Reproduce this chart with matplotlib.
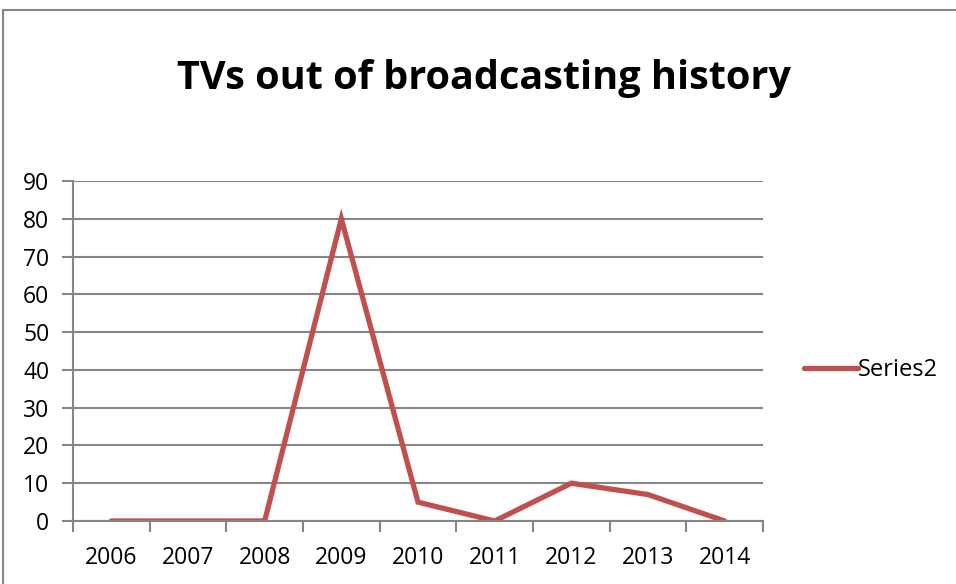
import matplotlib.pyplot as plt
from matplotlib.lines import Line2D

years = ["2006", "2007", "2008", "2009", "2010", "2011", "2012", "2013", "2014"]
values = [0, 0, 0, 80, 5, 0, 10, 7, 0]
y_ticks = [0, 10, 20, 30, 40, 50, 60, 70, 80, 90]

plt.rcParams['font.family'] = ['Open Sans', 'DejaVu Sans']
grey = '#868686'

fig = plt.figure(figsize=(9.56, 5.84), dpi=100)
# outer chart border
fig.add_artist(plt.Rectangle((3 / 956, -0.1), 1.2, 1.1 - 10 / 584, transform=fig.transFigure,
                             fill=False, edgecolor=grey, linewidth=1.5))

ax = fig.add_axes([73 / 956, 1 - 521 / 584, (763 - 73) / 956, (521 - 181) / 584])
x = range(len(years))
ax.plot(x, values, color='#C0504D', linewidth=3.8, solid_capstyle='round', solid_joinstyle='miter')

ax.set_xlim(-0.5, len(years) - 0.5)
ax.set_ylim(0, 90)
ax.set_yticks(y_ticks)
ax.set_xticks(x)
ax.set_xticklabels(years)
ax.set_xticks([i - 0.5 for i in range(len(years) + 1)], minor=True)
ax.tick_params(axis='x', which='major', length=0, pad=18, labelsize=16.5)
ax.tick_params(axis='x', which='minor', length=8, width=1.5, color=grey, direction='out')
ax.tick_params(axis='y', length=8, width=1.5, color=grey, labelsize=16.5, pad=9)
ax.grid(axis='y', color=grey, linewidth=1.5)
ax.set_axisbelow(True)
for s in ['top', 'right']:
    ax.spines[s].set_visible(False)
for s in ['left', 'bottom']:
    ax.spines[s].set_color(grey)
    ax.spines[s].set_linewidth(1.5)

fig.text(484 / 956, 1 - 78 / 584, "TVs out of broadcasting history", ha='center', va='center',
         fontsize=28.5, fontweight='bold')

handle = Line2D([], [], color='#C0504D', linewidth=3.8, solid_capstyle='round')
fig.legend([handle], ["Series2"], loc='center left', bbox_to_anchor=(792 / 956, 1 - 370 / 584),
           frameon=False, fontsize=17, handlelength=2.3, handletextpad=0.0, borderpad=0)

fig.savefig("out.png", dpi=100)
